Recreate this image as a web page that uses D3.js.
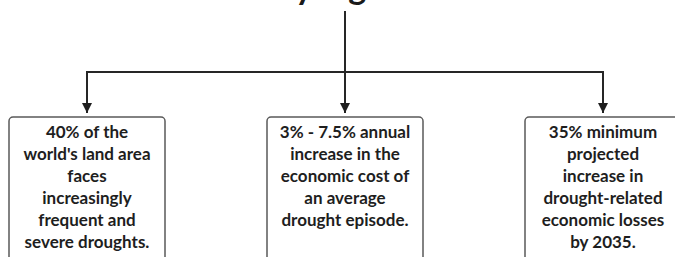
<!DOCTYPE html>
<html>
<head>
<meta charset="utf-8">
<script src="https://cdn.jsdelivr.net/npm/d3@7"></script>
<style>
  html, body { margin: 0; padding: 0; background: #fff; }
  svg { display: block; }
</style>
</head>
<body>
<div id="chart"></div>
<script>
// data
// -----------------------------------------------
let title = 'Key Figures';
let keys = ['land', 'cost', 'losses'];
let boxLines = [
  ['40% of the', "world's land area", 'faces', 'increasingly', 'frequent and', 'severe droughts.'],
  ['3% - 7.5% annual', 'increase in the', 'economic cost of', 'an average', 'drought episode.'],
  ['35% minimum', 'projected', 'increase in', 'drought-related', 'economic losses', 'by 2035.']
];

// layout
// -----------------------------------------------
let width = 675,
  height = 257;
let stemTop = 11,
  busY = 72,
  boxTop = 117,
  boxW = 156,
  lineH = 22;

let svg = d3
  .select('#chart')
  .append('svg')
  .attr('width', width)
  .attr('height', height)
  .attr('viewBox', [0, 0, width, height]);

let x = d3.scalePoint().domain(keys).range([87, 603]);
let cx = x(keys[1]);

svg
  .append('defs')
  .append('marker')
  .attr('id', 'arrow')
  .attr('viewBox', '0 0 10 12')
  .attr('refX', 10)
  .attr('refY', 5)
  .attr('markerWidth', 10)
  .attr('markerHeight', 12)
  .attr('markerUnits', 'userSpaceOnUse')
  .attr('orient', 'auto')
  .append('path')
  .attr('d', 'M0,0 L10,5 L0,10 Z')
  .attr('fill', '#1e1e1e');

// title (cut at top, as in the source image)
svg
  .append('text')
  .attr('x', cx - 2)
  .attr('y', -1)
  .attr('text-anchor', 'middle')
  .attr('font-family', 'Lato, sans-serif')
  .attr('font-weight', 'bold')
  .attr('font-size', 34)
  .attr('fill', '#1a1a1a')
  .text(title);

let lines = svg.append('g').attr('stroke', '#262626').attr('stroke-width', 2).attr('fill', 'none');

lines.append('line').attr('x1', cx).attr('x2', cx).attr('y1', stemTop).attr('y2', busY);

lines
  .append('path')
  .attr('d', d3.line()([[x(keys[0]), busY], [x(keys[2]), busY]]));

lines
  .selectAll('path.drop')
  .data(keys)
  .join('path')
  .attr('class', 'drop')
  .attr('d', (d) => d3.line()([[x(d), busY - 1], [x(d), boxTop - 4]]))
  .attr('marker-end', 'url(#arrow)');

// boxes
let boxes = svg
  .selectAll('g.box')
  .data(keys)
  .join('g')
  .attr('class', 'box')
  .attr('transform', (d) => `translate(${x(d)},${boxTop})`);

boxes
  .append('rect')
  .attr('x', -boxW / 2)
  .attr('y', 0)
  .attr('width', boxW)
  .attr('height', 160)
  .attr('rx', 4)
  .attr('fill', '#fff')
  .attr('stroke', '#5a5a5a')
  .attr('stroke-width', 1.5);

boxes
  .append('text')
  .attr('text-anchor', 'middle')
  .attr('font-family', 'Lato, sans-serif')
  .attr('font-weight', 'bold')
  .attr('font-size', 17)
  .attr('fill', '#1e1e1e')
  .selectAll('tspan')
  .data((d, i) => boxLines[i])
  .join('tspan')
  .attr('x', 0)
  .attr('y', (d, i) => 21 + i * lineH)
  .text((d) => d);
</script>
</body>
</html>
